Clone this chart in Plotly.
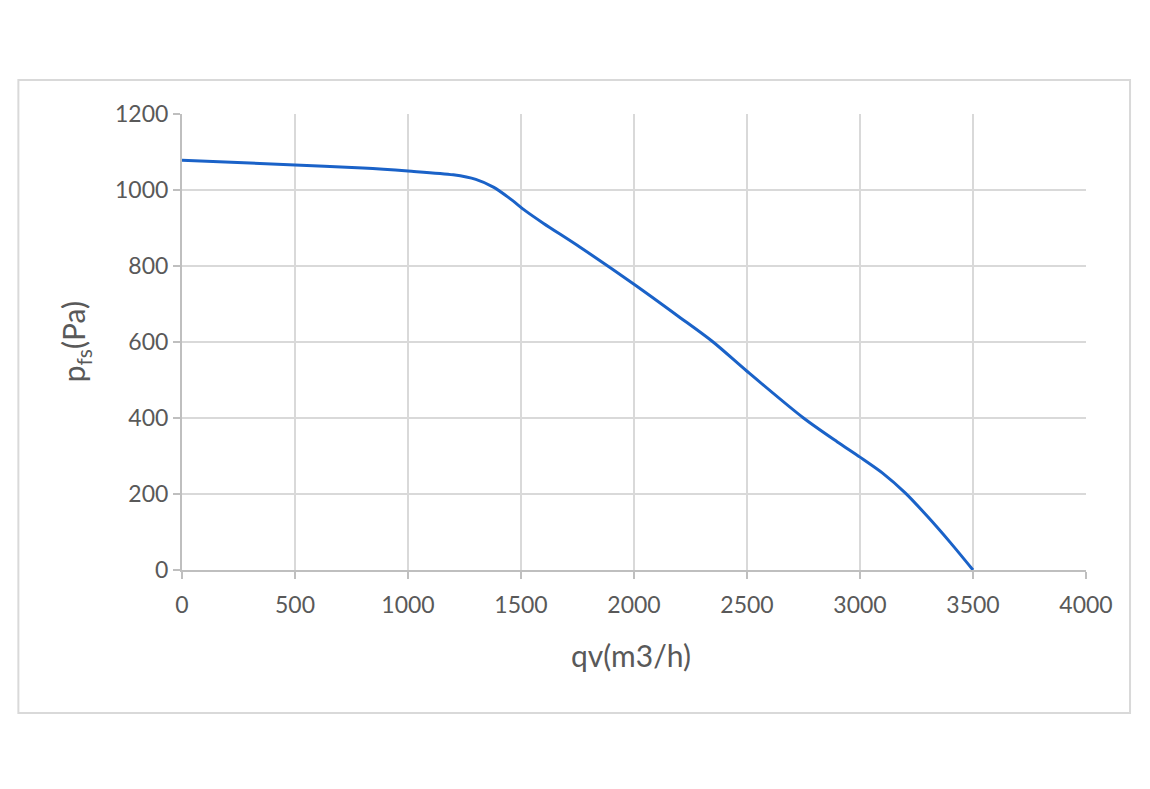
import plotly.graph_objects as go

# air flow (m3/h) vs static pressure (Pa)
qv = [0, 500, 800, 1000, 1200, 1300, 1380, 1450, 1520, 1600, 1760, 2000,
      2200, 2350, 2500, 2750, 2900, 3000, 3100, 3200, 3300, 3400, 3500]
pfs = [1078, 1066, 1058, 1050, 1040, 1028, 1007, 978, 945, 912, 850, 752,
       666, 600, 523, 400, 337, 297, 255, 203, 140, 72, 0]

x_ticks = [0, 500, 1000, 1500, 2000, 2500, 3000, 3500, 4000]
y_ticks = [0, 200, 400, 600, 800, 1000, 1200]

grey = "#595959"
grid = "#d9d9d9"
font_name = "Lato, Liberation Sans, Arial"

fig = go.Figure()
fig.add_trace(go.Scatter(
    x=qv, y=pfs, mode="lines",
    line=dict(color="#1a62c8", width=3, shape="spline", smoothing=0.8),
    showlegend=False,
))

axis_common = dict(
    showgrid=True, gridcolor=grid, gridwidth=2,
    showline=True, linecolor="#bfbfbf", linewidth=2,
    ticks="outside", ticklen=7, tickcolor="#bfbfbf", tickwidth=2,
    zeroline=False,
    tickfont=dict(family=font_name, size=23, color=grey),
)
fig.update_xaxes(range=[0, 4000], tickvals=x_ticks, ticklabelstandoff=6, **axis_common)
fig.update_yaxes(range=[0, 1200], tickvals=y_ticks, **axis_common)

fig.add_annotation(
    text="qv(m3/h)", xref="paper", yref="paper", x=0.497, y=-0.186,
    xanchor="center", yanchor="middle",
    showarrow=False, font=dict(family=font_name, size=30, color=grey),
)
fig.add_annotation(
    text="p<sub>fs</sub>(Pa)", xref="paper", yref="paper", x=-0.118, y=0.5,
    xanchor="center", yanchor="middle",
    textangle=-90, showarrow=False,
    font=dict(family=font_name, size=30, color=grey),
)

# outer frame of the chart box
fig.add_shape(
    type="rect", xref="paper", yref="paper",
    x0=-0.181, x1=1.0487, y0=-0.3136, y1=1.0746,
    line=dict(color="#d9d9d9", width=2), layer="below",
)

# page body adds 8px margin, so the figure is drawn 8px smaller
fig.update_layout(
    width=1142, height=781,
    margin=dict(l=174, r=64, t=106, b=219),
    paper_bgcolor="white", plot_bgcolor="white",
)

fig.write_html("out.html")
